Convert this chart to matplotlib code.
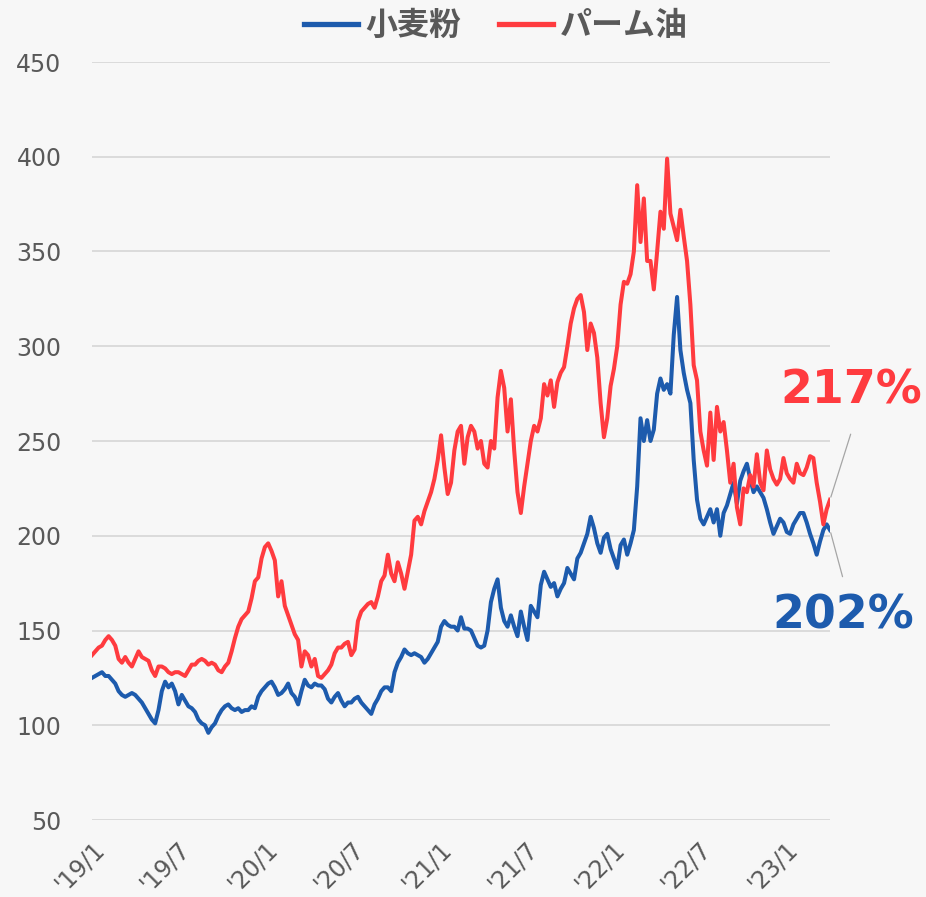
import matplotlib.pyplot as plt
import pandas as pd

# weekly index, 2019/1 = start
wheat = [
    125, 126, 127, 128, 126, 126, 124, 122, 118, 116,
    115, 116, 117, 116, 114, 112, 109, 106, 103, 101,
    108, 118, 123, 120, 122, 118, 111, 116, 113, 110,
    109, 107, 103, 101, 100, 96, 99, 101, 105, 108,
    110, 111, 109, 108, 109, 107, 108, 108, 110, 109,
    115, 118, 120, 122, 123, 120, 116, 117, 119, 122,
    117, 115, 111, 118, 124, 121, 120, 122, 121, 121,
    119, 114, 112, 115, 117, 113, 110, 112, 112, 114,
    115, 112, 110, 108, 106, 111, 114, 118, 120, 120,
    118, 128, 133, 136, 140, 138, 137, 138, 137, 136,
    133, 135, 138, 141, 144, 152, 155, 153, 152, 152,
    150, 157, 151, 151, 150, 146, 142, 141, 142, 150,
    165, 172, 177, 162, 155, 152, 158, 152, 147, 160,
    152, 145, 163, 160, 157, 174, 181, 177, 173, 175,
    168, 172, 175, 183, 180, 177, 188, 191, 196, 201,
    210, 204, 196, 191, 199, 201, 193, 188, 183, 195,
    198, 190, 196, 203, 226, 262, 250, 261, 250, 256,
    275, 283, 277, 280, 275, 306, 326, 298, 286, 277,
    270, 240, 219, 209, 206, 210, 214, 207, 214, 200,
    212, 216, 222, 228, 217, 229, 234, 238, 230, 223,
    226, 223, 220, 214, 207, 201, 205, 209, 207, 202,
    201, 206, 209, 212, 212, 207, 201, 196, 190, 197,
    203, 206, 203,
]

palm = [
    137, 139, 141, 142, 145, 147, 145, 142, 135, 133,
    136, 133, 131, 135, 139, 136, 135, 134, 129, 126,
    131, 131, 130, 128, 127, 128, 128, 127, 126, 129,
    132, 132, 134, 135, 134, 132, 133, 132, 129, 128,
    131, 133, 139, 146, 152, 156, 158, 160, 167, 176,
    178, 188, 194, 196, 192, 187, 168, 176, 163, 158,
    153, 148, 145, 131, 139, 137, 131, 135, 126, 125,
    127, 129, 132, 138, 141, 141, 143, 144, 137, 140,
    155, 160, 162, 164, 165, 162, 168, 176, 179, 190,
    180, 176, 186, 180, 172, 181, 190, 208, 210, 206,
    213, 218, 223, 230, 240, 253, 236, 222, 228, 245,
    255, 258, 238, 252, 258, 255, 246, 250, 238, 236,
    250, 246, 273, 287, 278, 255, 272, 245, 223, 212,
    226, 238, 250, 258, 255, 262, 280, 274, 282, 268,
    281, 286, 289, 300, 312, 320, 325, 327, 318, 298,
    312, 307, 294, 270, 252, 262, 279, 288, 300, 322,
    334, 333, 338, 350, 385, 355, 378, 345, 345, 330,
    350, 371, 362, 399, 370, 363, 356, 372, 358, 345,
    322, 290, 282, 255, 245, 237, 265, 240, 268, 255,
    260, 245, 228, 238, 215, 206, 225, 223, 232, 226,
    243, 228, 224, 245, 235, 230, 227, 230, 241, 233,
    230, 228, 238, 233, 232, 236, 242, 241, 228, 218,
    206, 214, 219,
]

series_names = ['小麦粉', 'パーム油']
end_labels = ['202%', '217%']
tick_labels = ["'19/1", "'19/7", "'20/1", "'20/7", "'21/1", "'21/7",
               "'22/1", "'22/7", "'23/1"]

blue = '#1d5bad'
red = '#ff3b3f'
grey = '#595959'
bg = '#f7f7f7'

dates = pd.date_range('2019-01-01', periods=len(wheat), freq='7D')

plt.rcParams['font.family'] = ['DejaVu Sans']

fig = plt.figure(figsize=(9.26, 8.97), dpi=100, facecolor=bg)
ax = fig.add_axes([92 / 926, 1 - 820 / 897, 738 / 926, 758 / 897])
ax.set_facecolor(bg)

ax.plot(dates, wheat, color=blue, lw=2.9, label=series_names[0])
ax.plot(dates, palm, color=red, lw=2.9, label=series_names[1])

ax.set_ylim(50, 450)
ax.set_yticks(range(50, 451, 50))
ax.set_xlim(dates[0], dates[-1])
ticks = pd.date_range('2019-01-01', '2023-01-01', freq='6MS')
ax.set_xticks(ticks)
ax.set_xticklabels(tick_labels, rotation=45, ha='right', va='top',
                   rotation_mode='anchor')

ax.grid(axis='y', color='#d9d9d9', lw=1.3)
ax.set_axisbelow(True)
for s in ax.spines.values():
    s.set_visible(False)
ax.tick_params(length=0, colors=grey, labelsize=17)
ax.tick_params(axis='y', pad=22)
ax.tick_params(axis='x', pad=12)

leg = fig.legend(loc='center', bbox_to_anchor=(496 / 926, 1 - 26 / 897),
                 ncol=2, frameon=False, handlelength=1.7, handletextpad=0.2,
                 columnspacing=1.2,
                 prop={'family': 'Noto Sans CJK JP', 'weight': 'bold', 'size': 23})
for t in leg.get_texts():
    t.set_color(grey)
for l in leg.get_lines():
    l.set_linewidth(3.8)

# end-of-line labels with leader lines
ax.text(1.029, 0.566, end_labels[1], transform=ax.transAxes, ha='center',
        va='center', fontsize=33, fontweight='bold', color=red)
ax.annotate('', xy=(dates[-1], palm[-1]), xytext=(1.028, 0.509),
            textcoords='axes fraction', annotation_clip=False,
            arrowprops=dict(arrowstyle='-', color='#a6a6a6', lw=0.9,
                            shrinkA=0, shrinkB=2))
ax.text(1.018, 0.2685, end_labels[0], transform=ax.transAxes, ha='center',
        va='center', fontsize=33, fontweight='bold', color=blue)
ax.annotate('', xy=(dates[-1], wheat[-1]), xytext=(1.017, 0.321),
            textcoords='axes fraction', annotation_clip=False,
            arrowprops=dict(arrowstyle='-', color='#a6a6a6', lw=0.9,
                            shrinkA=0, shrinkB=2))

fig.savefig('out.png', dpi=100, facecolor=bg)
